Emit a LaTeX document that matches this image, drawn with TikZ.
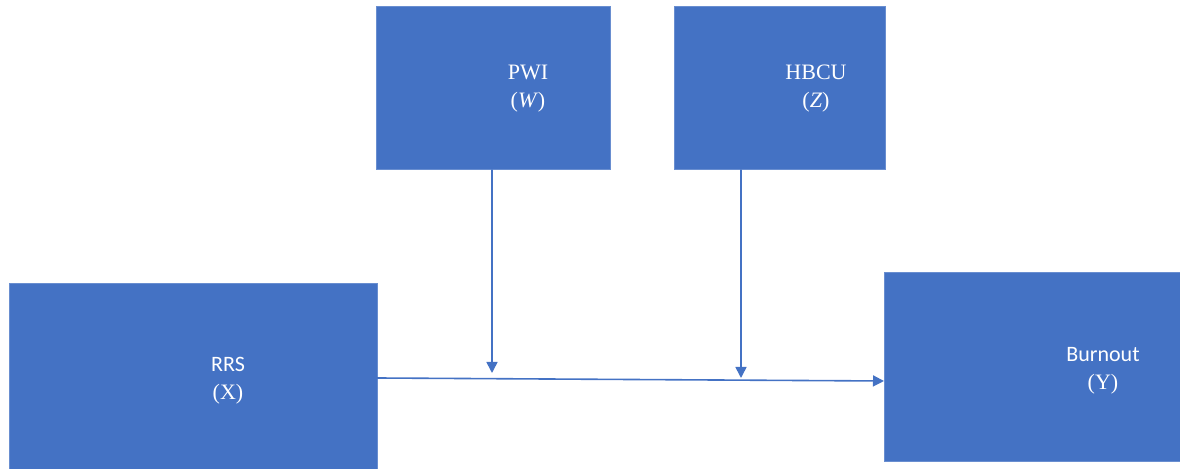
\documentclass[tikz,border=0pt]{standalone}
\usepackage{fontspec}
\setmainfont{Liberation Serif}
\newfontfamily\calfont{Carlito}
\usetikzlibrary{arrows.meta}
\definecolor{boxblue}{HTML}{4472C4}
\tikzset{
  varbox/.style={fill=boxblue,draw=boxblue!80!white,line width=0.5pt,inner sep=0pt},
  vartext/.style={text=white,align=center,font=\fontsize{11}{14}\selectfont},
  link/.style={draw=boxblue,line width=0.8pt,-{Triangle[length=5.5pt,width=5.5pt]}}
}
\begin{document}
\begin{tikzpicture}[x=0.5pt,y=-0.5pt,line cap=round]
\useasboundingbox (0,0) rectangle (1180,469);
\clip (0,0) rectangle (1180,469);
% boxes
\node[varbox,minimum width=117pt,minimum height=81.5pt] (pwi) at (493,88.5) {};
\node[varbox,minimum width=105.5pt,minimum height=81.5pt] (hbcu) at (779.5,88.5) {};
\node[varbox,minimum width=184pt,minimum height=100pt] (rrs) at (193,384) {};
\node[varbox,minimum width=160pt,minimum height=94.5pt] (burnout) at (1044,367.5) {};
% labels
\node[vartext] (pwitext) at (528,89) {PWI\\(\textit{W})};
\node[vartext] (hbcutext) at (816,89) {HBCU\\(\textit{Z})};
\node[vartext] (rrstext) at (228,381) {{\calfont RRS}\\(X)};
\node[vartext] (burnouttext) at (1103,371) {{\calfont Burnout}\\(Y)};
% path points
\coordinate (xout) at (377,378);
\coordinate (yin) at (884,381);
\coordinate (wtop) at (492,170);
\coordinate (wtip) at (492,373);
\coordinate (ztop) at (741,170);
\coordinate (ztip) at (741,378);
% arrows
\draw[link] (xout) -- (yin);
\draw[link] (wtop) -- (wtip);
\draw[link] (ztop) -- (ztip);
\end{tikzpicture}
\end{document}
